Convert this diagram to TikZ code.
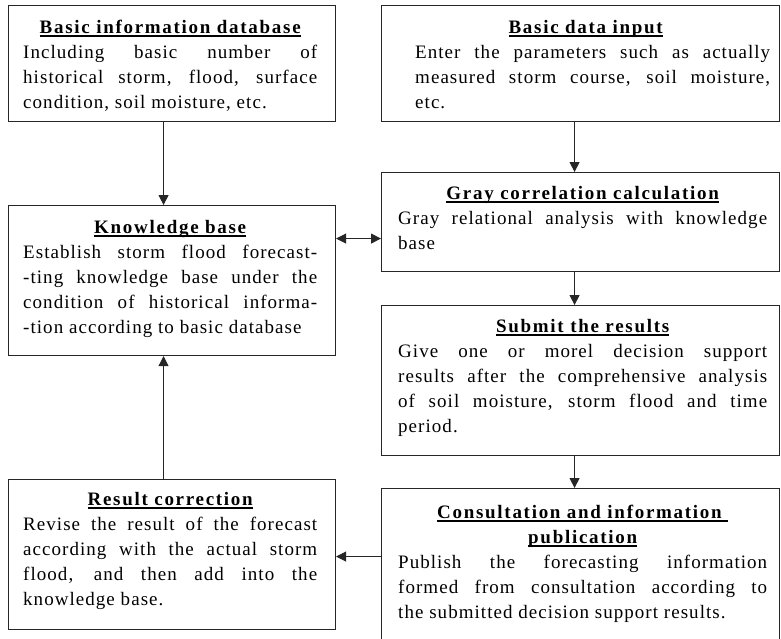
\documentclass[tikz,border=0pt]{standalone}
\usepackage{fontspec}
\setmainfont{Liberation Serif}[LetterSpace=5.5, BoldFeatures={LetterSpace=9}]
\usetikzlibrary{arrows.meta}

% bold heading with a heavy underline
\newcommand\headtitle[1]{\mbox{\setbox0=\hbox{\bfseries #1}\rlap{\vrule height-2.1pt depth3.7pt width\wd0}\box0}}
% strut fixing the height of the first line
\newcommand\firststrut{\vrule height19pt depth0pt width0pt\relax}
% paragraph settings for the box texts
\newcommand\boxtextsetup{\parindent=0pt\relax\hyphenpenalty=10000\relax\tolerance=10000\relax}

\begin{document}
\begin{tikzpicture}[x=1pt, y=-1pt,
  box/.style={draw=black!85, line width=1.1pt, inner sep=0pt, anchor=north west},
  txt/.style={anchor=north west, inner sep=0pt, align=justify,
    font=\fontsize{19}{25}\selectfont\boxtextsetup},
  arr/.style={draw=black!85, line width=1pt, -{Triangle[length=10pt,width=10pt]}},
  dblarr/.style={draw=black!85, line width=1pt, {Triangle[length=10pt,width=10pt]}-{Triangle[length=10pt,width=10pt]}}
]
\useasboundingbox (0,0) rectangle (781,638);

% frames
\node[box, minimum width=327pt, minimum height=116pt] (b1) at (8,5) {};
\node[box, minimum width=398pt, minimum height=116pt] (b2) at (381,5) {};
\node[box, minimum width=327pt, minimum height=150pt] (kb) at (8,205) {};
\node[box, minimum width=398pt, minimum height=99pt]  (gc) at (381,172) {};
\node[box, minimum width=398pt, minimum height=150pt] (sr) at (381,305) {};
\node[box, minimum width=327pt, minimum height=150pt] (rc) at (8,479) {};
\node[box, minimum width=398pt, minimum height=155pt] (ci) at (381,488) {};

% texts
\node[txt, text width=294pt] (t1) at ([xshift=15pt,yshift=-9pt]b1.north west)
  {{\centering\firststrut\headtitle{Basic information database}\par}
   Including basic number of\linebreak historical storm, flood, surface\linebreak condition, soil moisture, etc.};

\node[txt, text width=355pt] (t2) at ([xshift=34pt,yshift=-9pt]b2.north west)
  {{\centering\firststrut\hspace*{-14pt}\headtitle{Basic data input}\par}
   Enter the parameters such as actually\linebreak measured storm course, soil moisture,\linebreak etc.};

\node[txt, text width=294pt] (t3) at ([xshift=15pt,yshift=-9pt]kb.north west)
  {{\centering\firststrut\headtitle{Knowledge base}\par}
   Establish storm flood forecast-\linebreak -ting knowledge base under the\linebreak condition of historical informa-\linebreak -tion according to basic database};

\node[txt, text width=369pt] (t4) at ([xshift=17pt,yshift=-8pt]gc.north west)
  {{\centering\firststrut\headtitle{Gray correlation calculation}\par}
   Gray relational analysis with knowledge\linebreak base};

\node[txt, text width=369pt] (t5) at ([xshift=17pt,yshift=-8pt]sr.north west)
  {{\centering\firststrut\headtitle{Submit the results}\par}
   Give one or morel decision support\linebreak results after the comprehensive analysis\linebreak of soil moisture, storm flood and time\linebreak period.};

\node[txt, text width=294pt] (t6) at ([xshift=15pt,yshift=-7pt]rc.north west)
  {{\centering\firststrut\headtitle{Result correction}\par}
   Revise the result of the forecast\linebreak according with the actual storm\linebreak flood, and then add into the\linebreak knowledge base.};

\node[txt, text width=369pt] (t7) at ([xshift=17pt,yshift=-11pt]ci.north west)
  {{\centering\firststrut\headtitle{Consultation and information\ }\par
    \headtitle{publication}\par}
   Publish the forecasting information\linebreak formed from consultation according to\linebreak the submitted decision support results.};

% connectors
\draw[arr] ([xshift=-8.5pt]b1.south) -- ([xshift=-8.5pt]kb.north);
\draw[arr] ([xshift=-8.5pt]rc.north) -- ([xshift=-8.5pt]kb.south);
\draw[arr] ([xshift=-6pt]b2.south) -- ([xshift=-6pt]gc.north);
\draw[arr] ([xshift=-6pt]gc.south) -- ([xshift=-6pt]sr.north);
\draw[arr] ([xshift=-6pt]sr.south) -- ([xshift=-6pt]ci.north);
\coordinate (kbm) at ([yshift=42pt]kb.east);
\draw[dblarr] (kbm) -- (kbm -| gc.west);
\coordinate (rcm) at ([yshift=-2pt]rc.east);
\draw[arr] (rcm -| ci.west) -- (rcm);
\end{tikzpicture}
\end{document}
